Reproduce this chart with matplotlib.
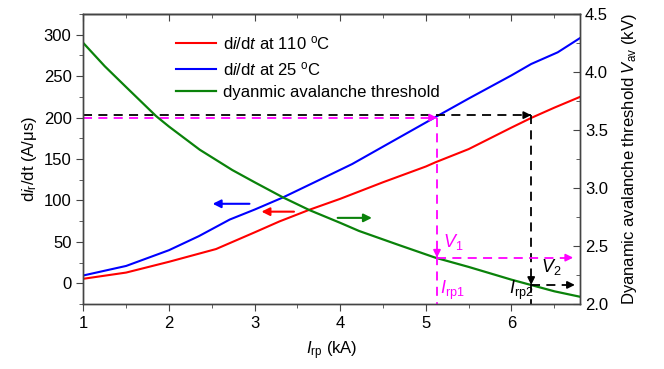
import matplotlib
matplotlib.use('Agg')
import matplotlib.pyplot as plt
from matplotlib.ticker import MultipleLocator

plt.rcParams['font.family'] = ['Liberation Sans', 'DejaVu Sans']
plt.rcParams['mathtext.fontset'] = 'custom'
plt.rcParams['mathtext.rm'] = 'Liberation Sans'
plt.rcParams['mathtext.it'] = 'Liberation Sans:italic'
plt.rcParams['mathtext.bf'] = 'Liberation Sans:bold'

# 数据
irp_110 = [1.0, 1.5, 2.0, 2.25, 2.55, 3.0, 3.29, 3.64, 4.0, 4.22, 4.5, 5.0, 5.11, 5.5, 6.0, 6.23, 6.5, 6.8]
didt_110 = [5.5, 13, 26, 33, 41.4, 61.5, 74.7, 88.8, 102, 110.8, 122, 141, 146, 162, 188, 199.6, 212, 225]
irp_25 = [1.0, 1.5, 2.0, 2.35, 2.71, 3.0, 3.33, 3.7, 4.14, 4.5, 5.11, 5.5, 6.0, 6.23, 6.54, 6.8]
didt_25 = [9.5, 21, 40, 57, 77, 89, 103.6, 122, 144, 165, 200.5, 223, 251, 264.7, 278.8, 296]
irp_v = [1.0, 1.25, 1.5, 1.85, 2.0, 2.36, 2.74, 3.0, 3.33, 3.64, 4.0, 4.22, 4.68, 5.11, 5.5, 6.0, 6.23, 6.5, 6.8]
v_av = [4.25, 4.05, 3.87, 3.62, 3.53, 3.33, 3.155, 3.05, 2.92, 2.81, 2.70, 2.63, 2.51, 2.40, 2.32, 2.21, 2.164, 2.11, 2.063]

# 工作点
didt_lvl1, didt_lvl2 = 200, 203
irp1, irp2 = 5.13, 6.23
v1, v2 = 2.40, 2.165

fs = 12
fig = plt.figure(figsize=(6.64, 3.69), dpi=100)
ax = fig.add_axes([0.1255, 0.176, 0.748, 0.786])
ax2 = ax.twinx()

l1, = ax.plot(irp_110, didt_110, color='#ff0000', lw=1.5, label=r'd$i$/d$t$ at 110 $^{\mathrm{o}}$C')
l2, = ax.plot(irp_25, didt_25, color='#0000ff', lw=1.5, label=r'd$i$/d$t$ at 25 $^{\mathrm{o}}$C')
l3, = ax2.plot(irp_v, v_av, color='#0a820a', lw=1.6, label='dyanmic avalanche threshold')

ax.set_xlim(1, 6.8)
ax.set_ylim(-25, 325)
ax2.set_ylim(2.0, 4.5)

ax.xaxis.set_major_locator(MultipleLocator(1))
ax.xaxis.set_minor_locator(MultipleLocator(0.5))
ax.yaxis.set_major_locator(MultipleLocator(50))
ax.yaxis.set_minor_locator(MultipleLocator(25))
ax2.yaxis.set_major_locator(MultipleLocator(0.5))
ax2.yaxis.set_minor_locator(MultipleLocator(0.25))
ax2.yaxis.set_major_formatter(plt.FormatStrFormatter('%.1f'))

ax.tick_params(axis='both', which='major', direction='out', length=5, labelsize=fs, color='#444444')
ax.tick_params(axis='both', which='minor', direction='out', length=3, color='#444444')
ax2.tick_params(axis='y', which='major', direction='in', length=5, labelsize=fs, color='#444444')
ax2.tick_params(axis='y', which='minor', direction='in', length=3, color='#444444')

sec = ax.secondary_xaxis('top')
sec.xaxis.set_major_locator(MultipleLocator(1))
sec.xaxis.set_minor_locator(MultipleLocator(0.5))
sec.tick_params(axis='x', which='major', direction='in', length=5, labeltop=False, color='#444444')
sec.tick_params(axis='x', which='minor', direction='in', length=3, color='#444444')

for a in (ax, ax2, sec):
    for s in a.spines.values():
        s.set_color('#444444')
        s.set_linewidth(1.0)

ax.set_xlabel(r'$I_{\mathrm{rp}}$ (kA)', fontsize=fs, labelpad=6)
ax.set_ylabel(r'd$i_{\mathrm{r}}$/dt (A/μs)', fontsize=fs, labelpad=3)
ax2.set_ylabel(r'Dyanamic avalanche threshold $V_{\mathrm{av}}$ (kV)', fontsize=fs, labelpad=9)

# 虚线 + 箭头
pink = '#ff00ff'
dash = dict(lw=1.3, dashes=(5, 3.5))
head = dict(arrowstyle='-|>', mutation_scale=11, lw=1.2, shrinkA=0, shrinkB=0)

ax.plot([1, irp2], [didt_lvl2, didt_lvl2], color='black', **dash)
ax.annotate('', xy=(irp2, didt_lvl2), xytext=(irp2 - 0.05, didt_lvl2),
            arrowprops=dict(color='black', **head))
ax.plot([1, irp1], [didt_lvl1, didt_lvl1], color=pink, **dash)
ax.annotate('', xy=(irp1, didt_lvl1), xytext=(irp1 - 0.05, didt_lvl1),
            arrowprops=dict(color=pink, **head))

# 竖线 (右轴坐标)
to_v = lambda d: ax2.transData.inverted().transform(ax.transData.transform((1, d)))[1]
ax2.plot([irp1, irp1], [to_v(didt_lvl1), 2.0], color=pink, **dash)
ax2.annotate('', xy=(irp1, v1), xytext=(irp1, v1 + 0.05),
             arrowprops=dict(color=pink, **head))
ax2.plot([irp2, irp2], [to_v(didt_lvl2), 2.0], color='black', **dash)
ax2.annotate('', xy=(irp2, v2), xytext=(irp2, v2 + 0.05),
             arrowprops=dict(color='black', **head))

ax2.plot([irp1, 6.7], [v1, v1], color=pink, **dash)
ax2.annotate('', xy=(6.72, v1), xytext=(6.67, v1), arrowprops=dict(color=pink, **head))
ax2.plot([irp2, 6.7], [v2, v2], color='black', **dash)
ax2.annotate('', xy=(6.74, v2), xytext=(6.69, v2), arrowprops=dict(color='black', **head))

ax2.text(irp1 + 0.07, 2.45, r'$V_{1}$', color=pink, fontsize=13, ha='left', va='bottom')
ax2.text(irp1 + 0.03, 2.02, r'$I_{\mathrm{rp1}}$', color=pink, fontsize=13, ha='left', va='bottom')
ax2.text(irp2 + 0.12, 2.23, r'$V_{2}$', color='black', fontsize=13, ha='left', va='bottom')
ax2.text(irp2 - 0.26, 2.02, r'$I_{\mathrm{rp2}}$', color='black', fontsize=13, ha='left', va='bottom')

# 指示轴的彩色箭头
arr = dict(arrowstyle='-|>', mutation_scale=12, lw=1.5, shrinkA=0, shrinkB=0)
ax.annotate('', xy=(2.51, 96), xytext=(2.94, 96), arrowprops=dict(color='#0000ff', **arr))
ax.annotate('', xy=(3.08, 86.5), xytext=(3.46, 86.5), arrowprops=dict(color='#ff0000', **arr))
ax.annotate('', xy=(4.37, 79), xytext=(3.97, 79), arrowprops=dict(color='#0a820a', **arr))

ax2.legend(handles=[l1, l2, l3], loc='upper left', bbox_to_anchor=(0.187, 0.93),
           frameon=False, fontsize=fs, borderaxespad=0, borderpad=0,
           handlelength=2.4, handletextpad=0.4, labelspacing=0.45)

fig.savefig('out.png', dpi=100)
